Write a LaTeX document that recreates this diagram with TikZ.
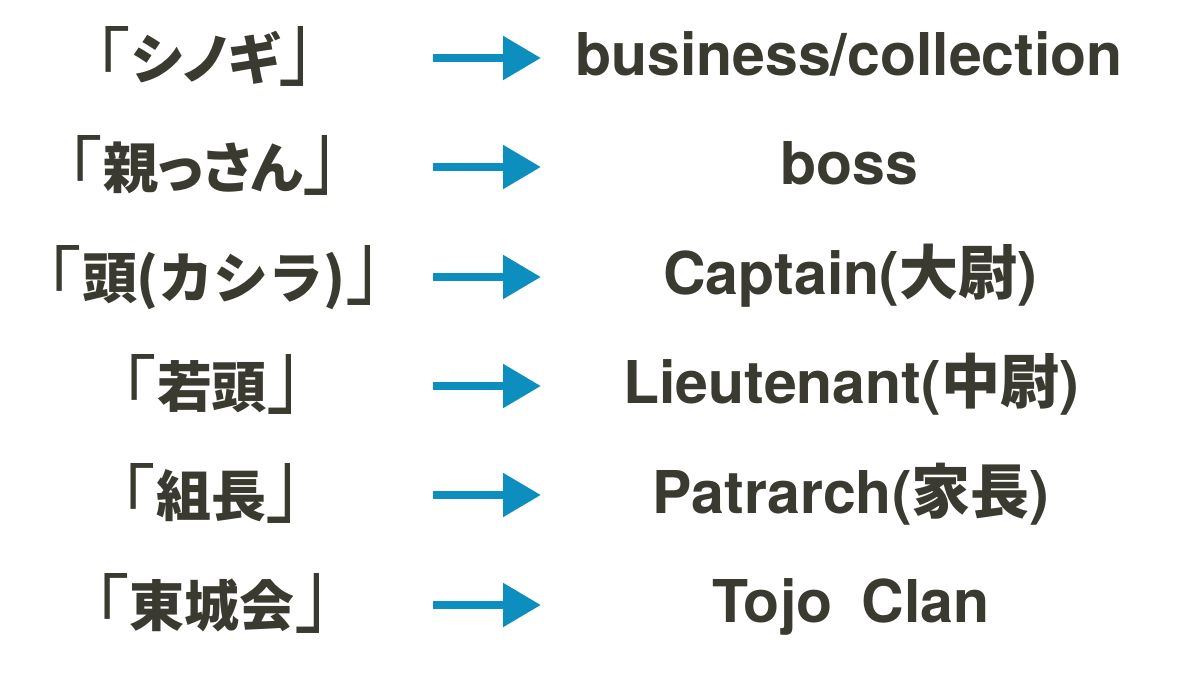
\documentclass[tikz,border=0pt]{standalone}
\usepackage{fontspec}
\usepackage{graphicx}
\setmainfont{TeX Gyre Heros}
\newfontfamily\jp{Noto Sans CJK JP}
\usetikzlibrary{arrows.meta}
\definecolor{ink}{RGB}{58,58,48}
\definecolor{arrowblue}{RGB}{12,142,190}
% tall corner brackets, proportional kana
\newcommand\jlb{\raisebox{-7pt}{\resizebox*{1.3\width}{60pt}{\raisebox{\depth}{\mdseries 「}}}}
\newcommand\jrb{\raisebox{-7pt}{\resizebox*{1.3\width}{60pt}{\raisebox{\depth}{\mdseries 」}}}}
\newcommand\kana[1]{{\addfontfeature{RawFeature=+palt}#1}}

\begin{document}
\begin{tikzpicture}[x=1pt,y=-1pt,
    jpterm/.style={anchor=base,text=ink,inner sep=0pt,
      font=\jp\bfseries\fontsize{55}{60}\selectfont},
    enterm/.style={anchor=base,text=ink,inner sep=0pt,
      font=\bfseries\fontsize{59}{64}\selectfont},
    maparrow/.style={arrowblue,line width=8.5pt,
      -{Triangle[length=38pt,width=42pt]}}]
  \useasboundingbox (0,0) rectangle (1200,675);
  % left column: Japanese terms
  \node[jpterm] (shinogi) at (205,79) {\jlb\kana{シノギ}\jrb};
  \node[jpterm] (oyassan) at (203,188) {\jlb 親\kana{っさん}\jrb};
  \node[jpterm] (kashira) at (214,298) {\jlb 頭(カシラ)\jrb};
  \node[jpterm] (wakagashira) at (212,407) {\jlb 若頭\jrb};
  \node[jpterm] (kumicho) at (211,516) {\jlb 組長\jrb};
  \node[jpterm] (tojokai) at (212,626) {\jlb 東城会\jrb};
  % right column: translations
  \node[enterm] (business) at (849,75) {business/collection};
  \node[enterm] (boss) at (849,184) {boss};
  \node[enterm] (captain) at (850,294) {Captain({\jp 大尉})};
  \node[enterm] (lieutenant) at (851,403) {Lieutenant({\jp 中尉})};
  \node[enterm] (patriarch) at (851,513) {Patrarch({\jp 家長})};
  \node[enterm] (clan) at (851,622) {Tojo\hspace{0.5em}Clan};
  % arrows
  \coordinate (s1) at (433,58);  \coordinate (e1) at (541,58);
  \coordinate (s2) at (433,167); \coordinate (e2) at (541,167);
  \coordinate (s3) at (433,277); \coordinate (e3) at (541,277);
  \coordinate (s4) at (433,386); \coordinate (e4) at (541,386);
  \coordinate (s5) at (433,495); \coordinate (e5) at (541,495);
  \coordinate (s6) at (433,605); \coordinate (e6) at (541,605);
  \draw[maparrow] (s1) -- (e1);
  \draw[maparrow] (s2) -- (e2);
  \draw[maparrow] (s3) -- (e3);
  \draw[maparrow] (s4) -- (e4);
  \draw[maparrow] (s5) -- (e5);
  \draw[maparrow] (s6) -- (e6);
\end{tikzpicture}
\end{document}
